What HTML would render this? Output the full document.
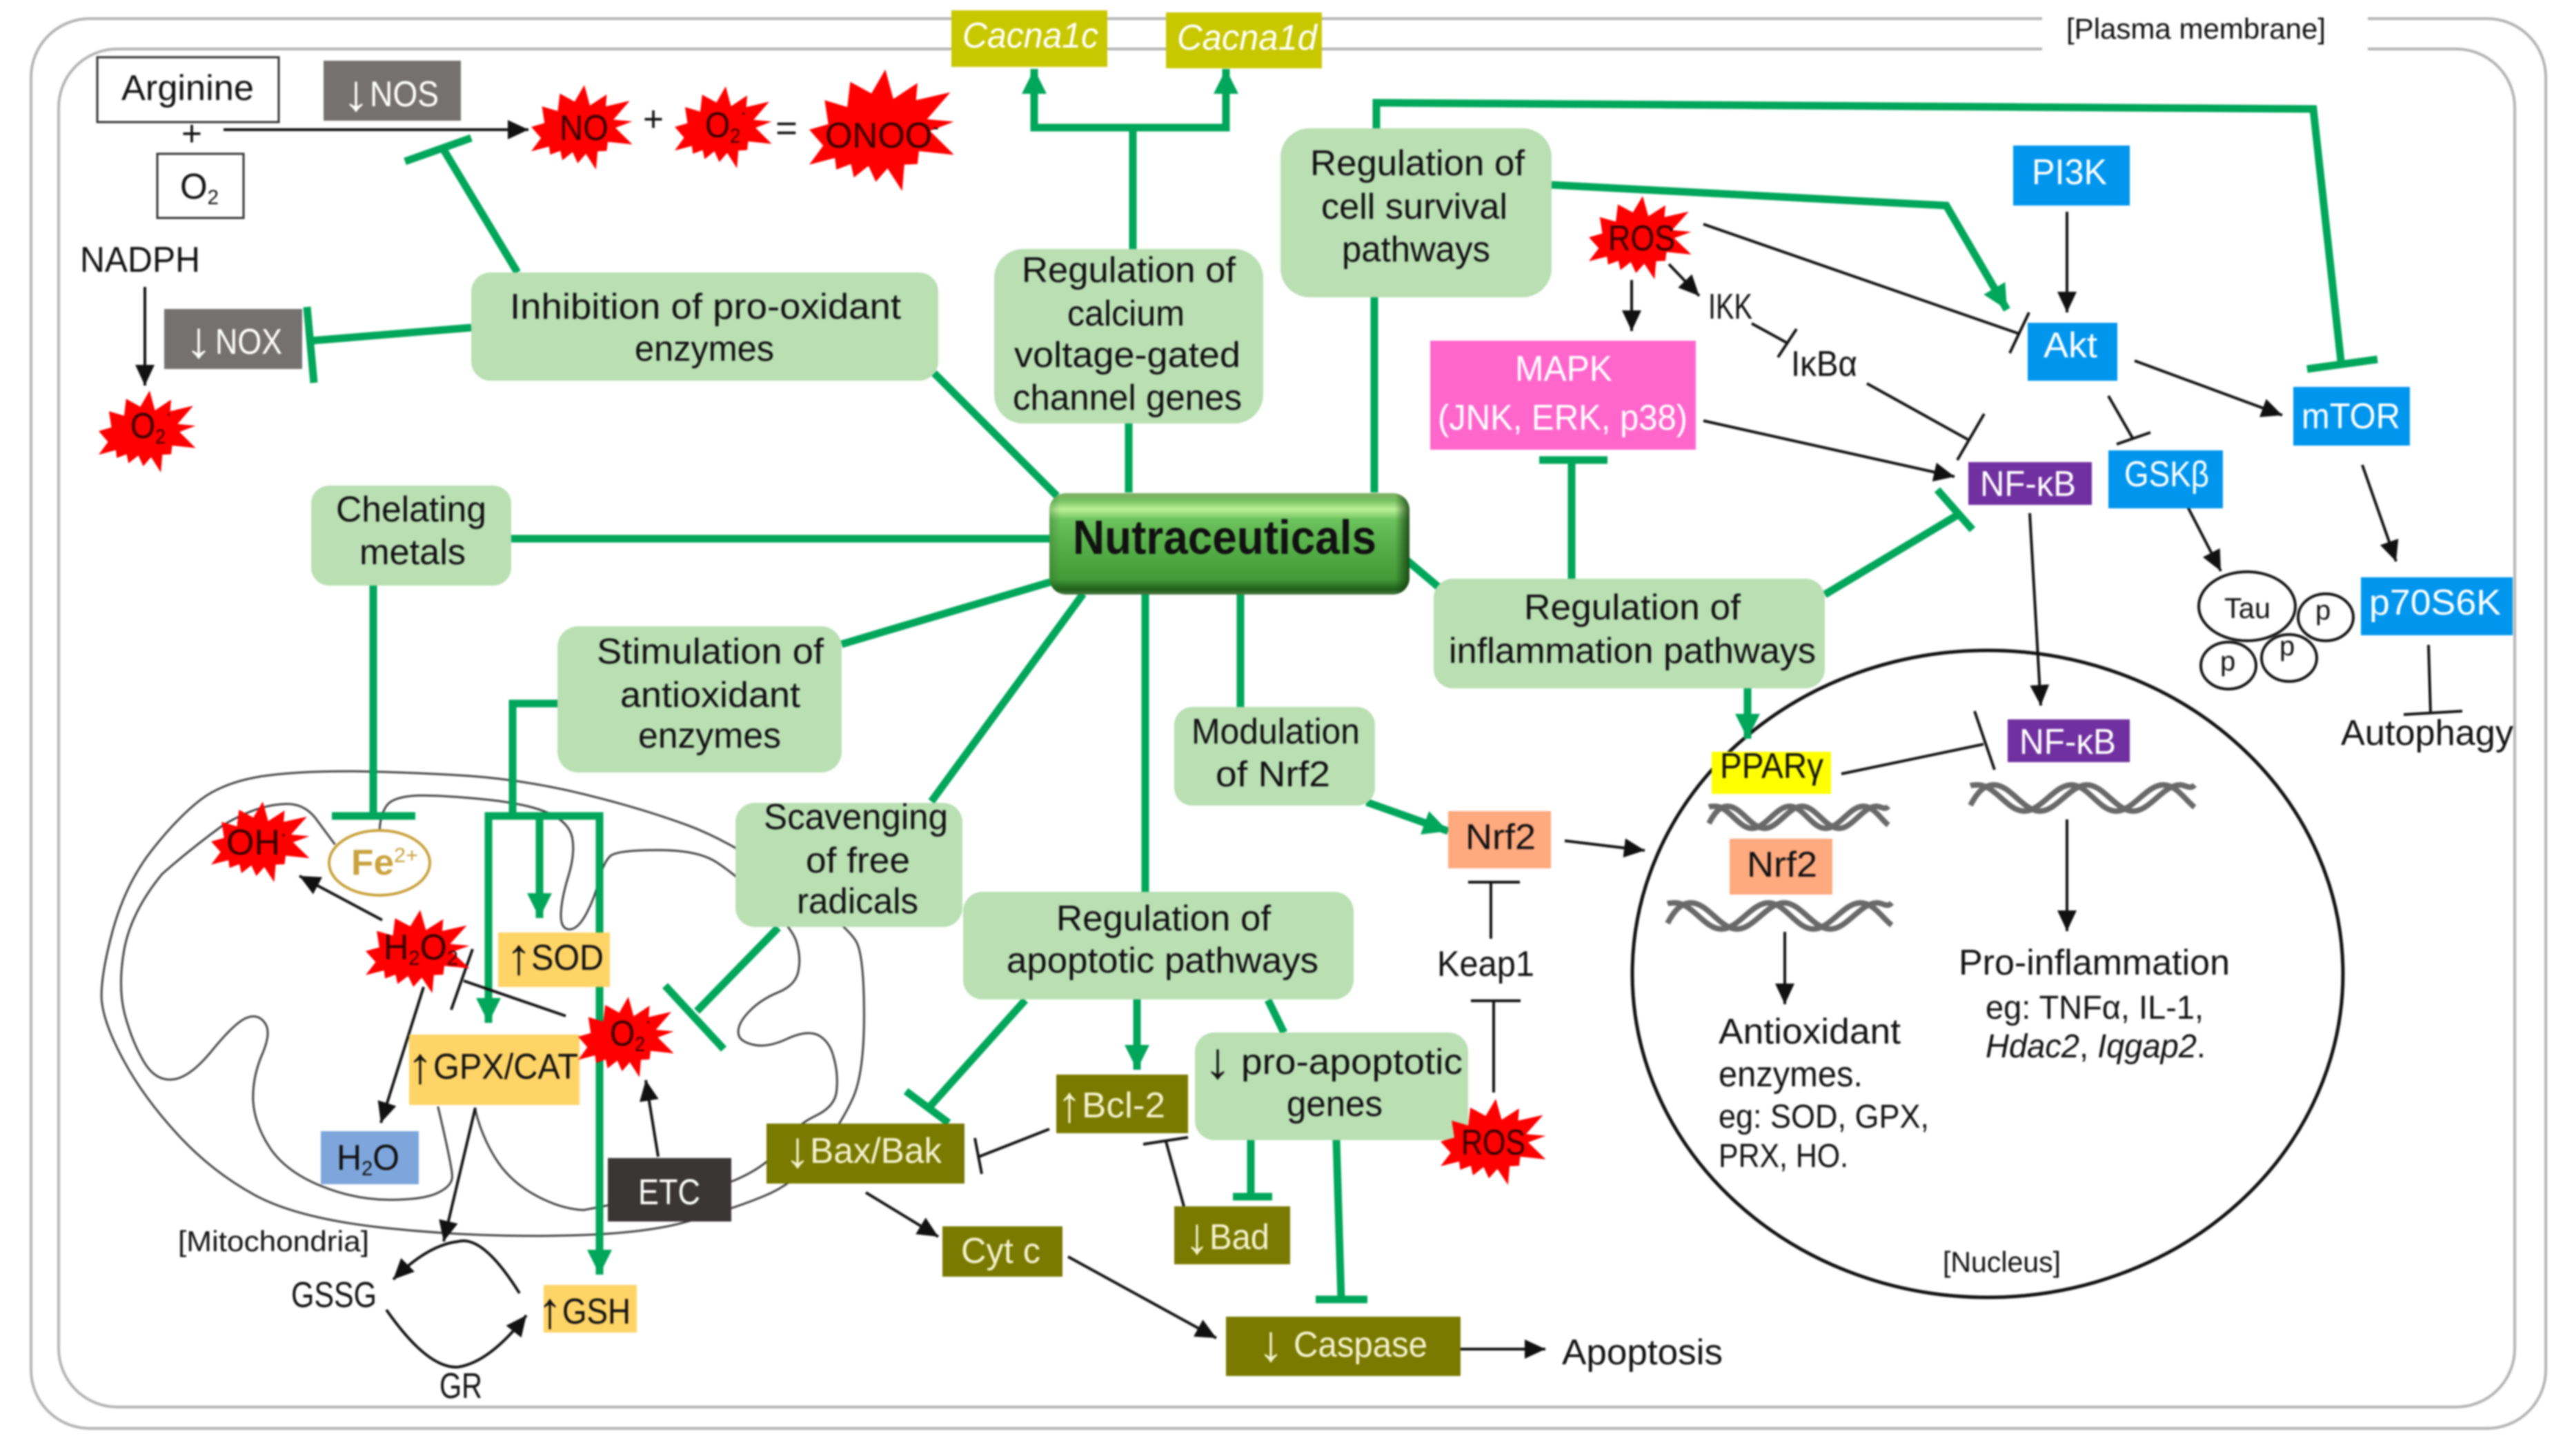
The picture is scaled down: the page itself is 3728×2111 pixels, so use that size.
<!DOCTYPE html>
<html><head><meta charset="utf-8"><style>
html,body{margin:0;padding:0;background:#fff}
svg{display:block;filter:blur(1.2px)}
text{font-family:"Liberation Sans",sans-serif;fill:#111;font-size:52px}
.g{fill:none;stroke:#00a65a;stroke-width:11}
.k{fill:none;stroke:#111;stroke-width:4}
.w{fill:#fff}
.w2{fill:#f6f2d0}
.m{fill:none;stroke:#444;stroke-width:3;vector-effect:non-scaling-stroke}
.d{fill:none;stroke:#696969;stroke-width:8;vector-effect:non-scaling-stroke}
.b{fill:#b9dfb3}
.r{fill:#3a0000}
.a{font-size:74px}
</style></head><body>
<svg width="3728" height="2111" viewBox="0 0 3728 2111" xmlns="http://www.w3.org/2000/svg">
<defs>
<marker id="ka" markerUnits="userSpaceOnUse" markerWidth="34" markerHeight="30" refX="30" refY="14" orient="auto"><path d="M0 0L30 14L0 28Z" fill="#111"/></marker>
<marker id="ga" markerUnits="userSpaceOnUse" markerWidth="38" markerHeight="40" refX="36" refY="18" orient="auto"><path d="M0 0L36 18L0 36Z" fill="#00a65a"/></marker>
<linearGradient id="ng" x1="0" y1="0" x2="0" y2="1"><stop offset="0" stop-color="#7fae62"/><stop offset=".07" stop-color="#74c060"/><stop offset=".16" stop-color="#bdf09a"/><stop offset=".26" stop-color="#6cc25c"/><stop offset=".5" stop-color="#58b04a"/><stop offset=".85" stop-color="#429a38"/><stop offset=".95" stop-color="#1f5f1a"/><stop offset="1" stop-color="#4c7a46"/></linearGradient>
<linearGradient id="ns" x1="0" y1="0" x2="1" y2="0"><stop offset="0" stop-color="#2b6a24" stop-opacity=".35"/><stop offset=".03" stop-color="#2b6a24" stop-opacity="0"/><stop offset=".96" stop-color="#123d0e" stop-opacity="0"/><stop offset="1" stop-color="#123d0e" stop-opacity=".85"/></linearGradient>
<polygon id="st" fill="#f00" points=".04,-.98 .15,-.5 .48,-.76 .46,-.48 .93,-.61 .61,-.17 .98,-.13 .65,.02 .98,.41 .5,.35 .48,.56 .3,.57 .27,1 .07,.63 -.09,.85 -.19,.59 -.39,.78 -.43,.56 -.63,.65 -.65,.46 -1,.57 -.81,.26 -1,0 -.74,-.09 -.79,-.48 -.48,-.37 -.44,-.78 -.15,-.59"/>
<g id="dna">
<path class="d" d="M0,78 C3,30 6,0 10.5,0 C18,0 23.5,100 31,100 C38.5,100 44.5,0 52,0 C59.5,0 65,100 72.6,100 C80,100 86,0 93.5,0 C96,0 98,20 100,0"/>
<path class="d" d="M0,3 C1,0 2,0 3.4,0 C11,0 16.5,100 24,100 C31.5,100 37.5,0 45,0 C52.5,0 57.5,100 65,100 C72.5,100 78.5,0 86,0 C92,0 96,60 100,85"/>
</g>
</defs>

<!-- cell membrane -->
<rect x="45" y="27" width="3645" height="2044" rx="85" fill="none" stroke="#b4b4b4" stroke-width="4"/>
<rect x="85" y="71" width="3560" height="1969" rx="85" fill="none" stroke="#b4b4b4" stroke-width="4"/>
<rect x="2960" y="10" width="472" height="80" fill="#fff"/>
<text x="2995" y="56" style="font-size:42px" textLength="376" lengthAdjust="spacingAndGlyphs">[Plasma membrane]</text>

<!-- mitochondrion -->
<g transform="translate(100,1050) scale(.8291,.676)">
<path class="m" d="M335,112 Q400,100 500,101 Q600,103 700,111 Q800,120 900,150 Q1000,180 1082,217 Q1165,255 1265,346 Q1365,437 1377,468 Q1390,500 1390,625 Q1390,750 1370,803 Q1350,857 1310,921 Q1270,985 1215,1012 Q1160,1040 1080,1067 Q1000,1095 850,1097 Q700,1100 550,1080 Q400,1060 325,1010 Q250,960 190,880 Q130,800 95,720 Q60,640 57,590 Q55,540 77,440 Q100,340 145,270 Q190,200 230,162 Q270,125 335,112 Z"/>
<path class="m" d="M465,258 L430,200 Q410,170 380,171 Q330,172 270,216 Q215,265 163,321 Q110,400 97,480 Q85,560 97,620 Q110,680 130,722 Q150,765 180,762 Q210,760 250,700 Q290,640 310,630 Q330,620 342,640 Q355,660 337,710 Q320,760 322,810 Q325,860 352,910 Q380,960 440,990 Q500,1020 560,1020 Q620,1020 645,1005 Q670,990 670,970 Q670,950 645,820"/>
<path class="m" d="M710,825 Q720,880 745,930 Q770,980 815,1010 Q860,1040 900,1042 L1160,980 Q1220,950 1245,905 Q1270,860 1305,840 Q1340,820 1342,785 Q1345,750 1337,715 Q1330,680 1310,667 Q1290,655 1255,675 Q1220,695 1195,687 Q1170,680 1170,660 Q1170,640 1190,615 Q1210,590 1240,575 Q1270,560 1275,530 Q1280,500 1272,468 Q1265,437 1215,380 Q1165,322 1132,296 Q1100,270 1030,270 Q960,270 947,282 Q935,295 927,332 Q920,370 905,405 Q890,440 875,440 Q860,440 860,410 Q860,380 872,330 Q885,280 880,245 Q875,210 837,190 Q800,170 725,161 Q650,152 610,153 Q570,155 557,172 Q545,190 543,225"/>
</g>

<!-- nucleus -->
<ellipse cx="2881" cy="1412" rx="515" ry="469" fill="none" stroke="#111" stroke-width="5"/>

<!-- green connectors -->
<g class="g">
<path d="M1642 362V185H1499V100" marker-end="url(#ga)"/>
<path d="M1642 185H1777V100" marker-end="url(#ga)"/>
<path d="M1636 614V714"/>
<path d="M1992 431V714"/>
<path d="M1995 186V149L3353 158L3393 523"/>
<path d="M3344 535L3446 521"/>
<path d="M2249 268L2821 298L2909 449" marker-end="url(#ga)"/>
<path d="M750 395L643 217"/>
<path d="M587 234L683 200"/>
<path d="M683 475L451 494"/>
<path d="M445 445L455 555"/>
<path d="M1354 541L1532 719"/>
<path d="M741 781H1522"/>
<path d="M541 849V1183"/>
<path d="M481 1183H602"/>
<path d="M2278 667V839"/>
<path d="M2231 667H2330"/>
<path d="M2645 862L2837 747"/>
<path d="M2808 710L2859 768"/>
<path d="M1220 934L1522 844"/>
<path d="M808 1020H743V1183"/>
<path d="M708 1483V1183H869V1848" marker-end="url(#ga)"/>
<path d="M708 1183V1483" marker-end="url(#ga)"/>
<path d="M782 1183V1331" marker-end="url(#ga)"/>
<path d="M1128 1345L1010 1466"/>
<path d="M964 1429L1049 1521"/>
<path d="M1350 1162L1570 861"/>
<path d="M1660 861V1293"/>
<path d="M1798 861V1025"/>
<path d="M2040 813L2085 851"/>
<path d="M1486 1450L1349 1603"/>
<path d="M1313 1582L1375 1628"/>
<path d="M1648 1449V1551" marker-end="url(#ga)"/>
<path d="M1838 1450L1861 1497"/>
<path d="M1813 1653V1735"/>
<path d="M1787 1735H1844"/>
<path d="M1937 1653L1944 1884"/>
<path d="M1907 1884H1982"/>
<path d="M1981 1163L2099 1205" marker-end="url(#ga)"/>
<path d="M2533 998V1071" marker-end="url(#ga)"/>
</g>

<!-- black connectors -->
<g class="k">
<path d="M324 188H766" marker-end="url(#ka)"/>
<path d="M210 416V559" marker-end="url(#ka)"/>
<path d="M2365 406V480" marker-end="url(#ka)"/>
<path d="M2419 383L2463 429" marker-end="url(#ka)"/>
<path d="M2469 325L2927 484"/><path d="M2941 453L2913 512"/>
<path d="M2539 469L2590 497"/><path d="M2604 477L2577 518"/>
<path d="M2706 556L2852 637"/><path d="M2876 600L2837 667"/>
<path d="M2469 610L2833 691" marker-end="url(#ka)"/>
<path d="M2996 307V453" marker-end="url(#ka)"/>
<path d="M3094 523L3308 602" marker-end="url(#ka)"/>
<path d="M3056 574L3091 635"/><path d="M3068 644L3117 627"/>
<path d="M3170 733L3219 828" marker-end="url(#ka)"/>
<path d="M3424 674L3473 814" marker-end="url(#ka)"/>
<path d="M3520 935L3523 1035"/><path d="M3484 1036L3569 1031"/>
<path d="M554 1334L434 1270" marker-end="url(#ka)"/>
<path d="M614 1431L552 1628" marker-end="url(#ka)"/>
<path d="M820 1473L672 1422"/><path d="M685 1376L654 1464"/>
<path d="M954 1677L936 1566" marker-end="url(#ka)"/>
<path d="M689 1606L643 1800" marker-end="url(#ka)"/>
<path d="M753 1875Q700 1790 664 1800Q620 1805 570 1855" marker-end="url(#ka)"/>
<path d="M560 1899Q620 1985 664 1982Q710 1975 763 1907" marker-end="url(#ka)"/>
<path d="M1521 1637L1419 1677"/><path d="M1413 1650L1423 1702"/>
<path d="M1716 1749L1690 1655"/><path d="M1657 1659L1722 1649"/>
<path d="M1255 1729L1360 1793" marker-end="url(#ka)"/>
<path d="M1548 1822L1763 1940" marker-end="url(#ka)"/>
<path d="M2117 1956H2240" marker-end="url(#ka)"/>
<path d="M2268 1219L2384 1233" marker-end="url(#ka)"/>
<path d="M2161 1361V1279"/><path d="M2128 1279H2203"/>
<path d="M2165 1584V1451"/><path d="M2132 1451H2204"/>
<path d="M2942 744L2958 1023" marker-end="url(#ka)"/>
<path d="M2669 1122L2875 1079"/><path d="M2862 1031L2891 1116"/>
<path d="M2587 1351V1456" marker-end="url(#ka)"/>
<path d="M2996 1188V1350" marker-end="url(#ka)"/>
</g>

<!-- green boxes -->
<rect class="b" x="683" y="395" width="677" height="157" rx="28"/>
<rect class="b" x="451" y="704" width="290" height="145" rx="26"/>
<rect class="b" x="1441" y="361" width="390" height="253" rx="42"/>
<rect class="b" x="1856" y="186" width="393" height="245" rx="42"/>
<rect class="b" x="2078" y="839" width="567" height="159" rx="28"/>
<rect class="b" x="808" y="908" width="412" height="212" rx="30"/>
<rect class="b" x="1066" y="1164" width="329" height="180" rx="28"/>
<rect class="b" x="1702" y="1025" width="291" height="143" rx="26"/>
<rect class="b" x="1396" y="1293" width="566" height="156" rx="28"/>
<rect class="b" x="1732" y="1497" width="396" height="156" rx="28"/>
<rect x="1521" y="715" width="522" height="147" rx="24" fill="url(#ng)"/>
<rect x="1521" y="715" width="522" height="147" rx="24" fill="url(#ns)"/>

<!-- coloured boxes -->
<rect x="141" y="83" width="263" height="94" fill="#fff" stroke="#333" stroke-width="3"/>
<rect x="228" y="223" width="125" height="93" fill="#fff" stroke="#333" stroke-width="3"/>
<rect x="469" y="88" width="199" height="87" fill="#767171"/>
<rect x="238" y="448" width="200" height="87" fill="#767171"/>
<rect x="1379" y="15" width="226" height="82" fill="#c8c800"/>
<rect x="1690" y="18" width="226" height="81" fill="#c8c800"/>
<rect x="2073" y="494" width="385" height="158" fill="#ff66cc"/>
<rect x="2918" y="211" width="169" height="87" fill="#0096ee"/>
<rect x="2939" y="468" width="130" height="84" fill="#0096ee"/>
<rect x="3324" y="561" width="169" height="85" fill="#0096ee"/>
<rect x="3056" y="653" width="166" height="84" fill="#0096ee"/>
<rect x="3422" y="837" width="220" height="84" fill="#0096ee"/>
<rect x="2853" y="670" width="179" height="62" fill="#7030a0"/>
<rect x="2910" y="1043" width="177" height="62" fill="#7030a0"/>
<rect x="2481" y="1090" width="173" height="61" fill="#ffff00"/>
<rect x="2507" y="1216" width="149" height="81" fill="#ffa97f"/>
<rect x="2099" y="1176" width="149" height="83" fill="#ffa97f"/>
<rect x="722" y="1352" width="162" height="79" fill="#ffd466"/>
<rect x="593" y="1500" width="247" height="102" fill="#ffd466"/>
<rect x="788" y="1863" width="135" height="69" fill="#ffd466"/>
<rect x="465" y="1640" width="142" height="77" fill="#7ea6dc"/>
<rect x="881" y="1679" width="179" height="92" fill="#3a3636"/>
<rect x="1111" y="1629" width="287" height="87" fill="#7a7a00"/>
<rect x="1531" y="1558" width="191" height="85" fill="#7a7a00"/>
<rect x="1702" y="1749" width="168" height="84" fill="#7a7a00"/>
<rect x="1366" y="1778" width="174" height="73" fill="#7a7a00"/>
<rect x="1777" y="1909" width="340" height="86" fill="#7a7a00"/>

<!-- Fe and Tau -->
<ellipse cx="550" cy="1251" rx="73" ry="47" fill="#fff" stroke="#c8a23c" stroke-width="4"/>
<g fill="#fff" stroke="#111" stroke-width="4">
<ellipse cx="3257" cy="879" rx="70" ry="50"/>
<ellipse cx="3371" cy="895" rx="40" ry="34"/>
<ellipse cx="3318" cy="954" rx="40" ry="34"/>
<ellipse cx="3230" cy="965" rx="40" ry="34"/>
</g>

<!-- DNA -->
<use href="#dna" transform="translate(2477,1169) scale(2.6,.32)"/>
<use href="#dna" transform="translate(2417,1309) scale(3.25,.38)"/>
<use href="#dna" transform="translate(2856,1138) scale(3.25,.38)"/>

<!-- stars -->
<use href="#st" transform="translate(844,184) scale(74,62)"/>
<use href="#st" transform="translate(1049,184) scale(71,60)"/>
<use href="#st" transform="translate(1279,188) scale(106,89)"/>
<use href="#st" transform="translate(214,625) scale(71,60)"/>
<use href="#st" transform="translate(2378,344) scale(75,61)"/>
<use href="#st" transform="translate(378,1220) scale(72,59)"/>
<use href="#st" transform="translate(606,1379) scale(76,61)"/>
<use href="#st" transform="translate(908,1503) scale(70,59)"/>
<use href="#st" transform="translate(2165,1655) scale(77,63)"/>

<!-- text -->
<text x="176" y="145" textLength="192" lengthAdjust="spacingAndGlyphs">Arginine</text>
<text x="263" y="211" textLength="30" lengthAdjust="spacingAndGlyphs">+</text>
<text x="261" y="288" textLength="56" lengthAdjust="spacingAndGlyphs">O<tspan dy="8" style="font-size:30px">2</tspan></text>
<text class="w a" x="496" y="160" textLength="40" lengthAdjust="spacingAndGlyphs">↓</text>
<text class="w" x="536" y="154" textLength="100" lengthAdjust="spacingAndGlyphs">NOS</text>
<text x="116" y="394" textLength="174" lengthAdjust="spacingAndGlyphs">NADPH</text>
<text class="w a" x="268" y="518" textLength="40" lengthAdjust="spacingAndGlyphs">↓</text>
<text class="w" x="312" y="513" textLength="97" lengthAdjust="spacingAndGlyphs">NOX</text>
<text class="r" x="811" y="203" textLength="71" lengthAdjust="spacingAndGlyphs">NO</text>
<text x="932" y="190" textLength="30" lengthAdjust="spacingAndGlyphs">+</text>
<text class="r" x="1022" y="199" textLength="60" lengthAdjust="spacingAndGlyphs">O<tspan dy="8" style="font-size:30px">2</tspan><tspan dy="-34" style="font-size:30px">·</tspan></text>
<text x="1124" y="203" textLength="32" lengthAdjust="spacingAndGlyphs">=</text>
<text class="r" x="1196" y="214" textLength="165" lengthAdjust="spacingAndGlyphs">ONOO<tspan dy="-20" style="font-size:30px">-</tspan></text>
<text class="r" x="189" y="635" textLength="60" lengthAdjust="spacingAndGlyphs">O<tspan dy="8" style="font-size:30px">2</tspan><tspan dy="-34" style="font-size:30px">·</tspan></text>

<text class="w" x="1395" y="69" font-style="italic" textLength="197" lengthAdjust="spacingAndGlyphs">Cacna1c</text>
<text class="w" x="1706" y="72" font-style="italic" textLength="203" lengthAdjust="spacingAndGlyphs">Cacna1d</text>

<text x="739" y="462" textLength="567" lengthAdjust="spacingAndGlyphs">Inhibition of pro-oxidant</text>
<text x="920" y="523" textLength="202" lengthAdjust="spacingAndGlyphs">enzymes</text>
<text x="487" y="756" textLength="218" lengthAdjust="spacingAndGlyphs">Chelating</text>
<text x="521" y="818" textLength="154" lengthAdjust="spacingAndGlyphs">metals</text>

<text x="1481" y="409" textLength="310" lengthAdjust="spacingAndGlyphs">Regulation of</text>
<text x="1547" y="472" textLength="170" lengthAdjust="spacingAndGlyphs">calcium</text>
<text x="1470" y="532" textLength="328" lengthAdjust="spacingAndGlyphs">voltage-gated</text>
<text x="1468" y="594" textLength="332" lengthAdjust="spacingAndGlyphs">channel genes</text>

<text x="1899" y="254" textLength="311" lengthAdjust="spacingAndGlyphs">Regulation of</text>
<text x="1915" y="317" textLength="270" lengthAdjust="spacingAndGlyphs">cell survival</text>
<text x="1945" y="379" textLength="215" lengthAdjust="spacingAndGlyphs">pathways</text>

<text class="r" x="2331" y="363" textLength="97" lengthAdjust="spacingAndGlyphs">ROS</text>
<text x="2476" y="462" textLength="64" lengthAdjust="spacingAndGlyphs">IKK</text>
<text x="2596" y="545" textLength="96" lengthAdjust="spacingAndGlyphs">IκBα</text>
<text class="w" x="2196" y="552" textLength="141" lengthAdjust="spacingAndGlyphs">MAPK</text>
<text class="w" x="2084" y="623" textLength="362" lengthAdjust="spacingAndGlyphs">(JNK, ERK, p38)</text>

<text x="1555" y="803" style="font-size:70px;font-weight:bold" textLength="440" lengthAdjust="spacingAndGlyphs">Nutraceuticals</text>

<text class="w" x="2945" y="267" textLength="109" lengthAdjust="spacingAndGlyphs">PI3K</text>
<text class="w" x="2962" y="518" textLength="78" lengthAdjust="spacingAndGlyphs">Akt</text>
<text class="w" x="3336" y="621" textLength="143" lengthAdjust="spacingAndGlyphs">mTOR</text>
<text class="w" x="3079" y="705" textLength="123" lengthAdjust="spacingAndGlyphs">GSKβ</text>
<text class="w" x="3434" y="891" textLength="191" lengthAdjust="spacingAndGlyphs">p70S6K</text>
<text class="w" x="2870" y="719" textLength="139" lengthAdjust="spacingAndGlyphs">NF-κB</text>
<text x="3224" y="896" style="font-size:42px" textLength="67" lengthAdjust="spacingAndGlyphs">Tau</text>
<text x="3356" y="898" style="font-size:40px">p</text>
<text x="3304" y="950" style="font-size:40px">p</text>
<text x="3218" y="972" style="font-size:40px">p</text>
<text x="3393" y="1080" textLength="250" lengthAdjust="spacingAndGlyphs">Autophagy</text>

<text x="2209" y="898" textLength="314" lengthAdjust="spacingAndGlyphs">Regulation of</text>
<text x="2100" y="961" textLength="532" lengthAdjust="spacingAndGlyphs">inflammation pathways</text>

<text x="865" y="962" textLength="329" lengthAdjust="spacingAndGlyphs">Stimulation of</text>
<text x="899" y="1025" textLength="261" lengthAdjust="spacingAndGlyphs">antioxidant</text>
<text x="925" y="1084" textLength="207" lengthAdjust="spacingAndGlyphs">enzymes</text>

<text x="1107" y="1202" textLength="267" lengthAdjust="spacingAndGlyphs">Scavenging</text>
<text x="1168" y="1265" textLength="151" lengthAdjust="spacingAndGlyphs">of free</text>
<text x="1155" y="1324" textLength="176" lengthAdjust="spacingAndGlyphs">radicals</text>

<text x="1727" y="1078" textLength="244" lengthAdjust="spacingAndGlyphs">Modulation</text>
<text x="1762" y="1140" textLength="166" lengthAdjust="spacingAndGlyphs">of Nrf2</text>

<text class="r" x="328" y="1239" textLength="88" lengthAdjust="spacingAndGlyphs">OH<tspan dy="-20" style="font-size:30px">·</tspan></text>
<text x="509" y="1268" style="fill:#c8a23c;font-weight:bold" textLength="97" lengthAdjust="spacingAndGlyphs">Fe<tspan dy="-18" style="font-size:30px;font-weight:normal">2+</tspan></text>
<text class="r" x="556" y="1391" textLength="108" lengthAdjust="spacingAndGlyphs">H<tspan dy="8" style="font-size:30px">2</tspan><tspan dy="-8">O</tspan><tspan dy="8" style="font-size:30px">2</tspan></text>
<text class="a" x="733" y="1412" textLength="38" lengthAdjust="spacingAndGlyphs">↑</text>
<text x="770" y="1406" textLength="105" lengthAdjust="spacingAndGlyphs">SOD</text>
<text class="r" x="884" y="1516" textLength="60" lengthAdjust="spacingAndGlyphs">O<tspan dy="8" style="font-size:30px">2</tspan><tspan dy="-34" style="font-size:30px">·</tspan></text>
<text class="a" x="590" y="1570" textLength="38" lengthAdjust="spacingAndGlyphs">↑</text>
<text x="628" y="1564" textLength="210" lengthAdjust="spacingAndGlyphs">GPX/CAT</text>
<text x="488" y="1696" textLength="91" lengthAdjust="spacingAndGlyphs">H<tspan dy="8" style="font-size:30px">2</tspan><tspan dy="-8">O</tspan></text>
<text class="w" x="925" y="1746" textLength="90" lengthAdjust="spacingAndGlyphs">ETC</text>
<text x="258" y="1814" style="font-size:42px" textLength="277" lengthAdjust="spacingAndGlyphs">[Mitochondria]</text>
<text x="422" y="1895" textLength="124" lengthAdjust="spacingAndGlyphs">GSSG</text>
<text class="a" x="779" y="1925" textLength="36" lengthAdjust="spacingAndGlyphs">↑</text>
<text x="815" y="1919" textLength="99" lengthAdjust="spacingAndGlyphs">GSH</text>
<text x="637" y="2027" textLength="62" lengthAdjust="spacingAndGlyphs">GR</text>

<text x="1531" y="1349" textLength="311" lengthAdjust="spacingAndGlyphs">Regulation of</text>
<text x="1459" y="1410" textLength="452" lengthAdjust="spacingAndGlyphs">apoptotic pathways</text>
<text class="a" x="1745" y="1563" textLength="40" lengthAdjust="spacingAndGlyphs">↓</text>
<text x="1799" y="1557" textLength="321" lengthAdjust="spacingAndGlyphs">pro-apoptotic</text>
<text x="1865" y="1618" textLength="139" lengthAdjust="spacingAndGlyphs">genes</text>

<text class="w2 a" x="1137" y="1692" textLength="38" lengthAdjust="spacingAndGlyphs">↓</text>
<text class="w2" x="1174" y="1686" textLength="191" lengthAdjust="spacingAndGlyphs">Bax/Bak</text>
<text class="w2 a" x="1532" y="1626" textLength="36" lengthAdjust="spacingAndGlyphs">↑</text>
<text class="w2" x="1568" y="1620" textLength="121" lengthAdjust="spacingAndGlyphs">Bcl-2</text>
<text class="w2 a" x="1717" y="1817" textLength="36" lengthAdjust="spacingAndGlyphs">↓</text>
<text class="w2" x="1753" y="1811" textLength="87" lengthAdjust="spacingAndGlyphs">Bad</text>
<text class="w2" x="1393" y="1831" textLength="115" lengthAdjust="spacingAndGlyphs">Cyt c</text>
<text class="w2 a" x="1823" y="1973" textLength="38" lengthAdjust="spacingAndGlyphs">↓</text>
<text class="w2" x="1875" y="1967" textLength="194" lengthAdjust="spacingAndGlyphs">Caspase</text>
<text x="2264" y="1978" textLength="233" lengthAdjust="spacingAndGlyphs">Apoptosis</text>

<text x="2124" y="1231" textLength="102" lengthAdjust="spacingAndGlyphs">Nrf2</text>
<text x="2083" y="1415" textLength="141" lengthAdjust="spacingAndGlyphs">Keap1</text>
<text class="r" x="2118" y="1674" textLength="93" lengthAdjust="spacingAndGlyphs">ROS</text>

<text x="2493" y="1128" textLength="150" lengthAdjust="spacingAndGlyphs">PPARγ</text>
<text x="2532" y="1271" textLength="102" lengthAdjust="spacingAndGlyphs">Nrf2</text>
<text class="w" x="2927" y="1093" textLength="140" lengthAdjust="spacingAndGlyphs">NF-κB</text>
<text x="2491" y="1513" textLength="264" lengthAdjust="spacingAndGlyphs">Antioxidant</text>
<text x="2491" y="1575" textLength="209" lengthAdjust="spacingAndGlyphs">enzymes.</text>
<text x="2491" y="1635" style="font-size:48px" textLength="305" lengthAdjust="spacingAndGlyphs">eg: SOD, GPX,</text>
<text x="2491" y="1692" style="font-size:48px" textLength="188" lengthAdjust="spacingAndGlyphs">PRX, HO.</text>
<text x="2839" y="1413" textLength="393" lengthAdjust="spacingAndGlyphs">Pro-inflammation</text>
<text x="2878" y="1477" style="font-size:48px" textLength="316" lengthAdjust="spacingAndGlyphs">eg: TNFα, IL-1,</text>
<text x="2878" y="1533" style="font-size:48px" textLength="319" lengthAdjust="spacingAndGlyphs"><tspan font-style="italic">Hdac2</tspan>, <tspan font-style="italic">Iqgap2</tspan>.</text>
<text x="2816" y="1844" style="font-size:42px" textLength="171" lengthAdjust="spacingAndGlyphs">[Nucleus]</text>
</svg>
</body></html>
